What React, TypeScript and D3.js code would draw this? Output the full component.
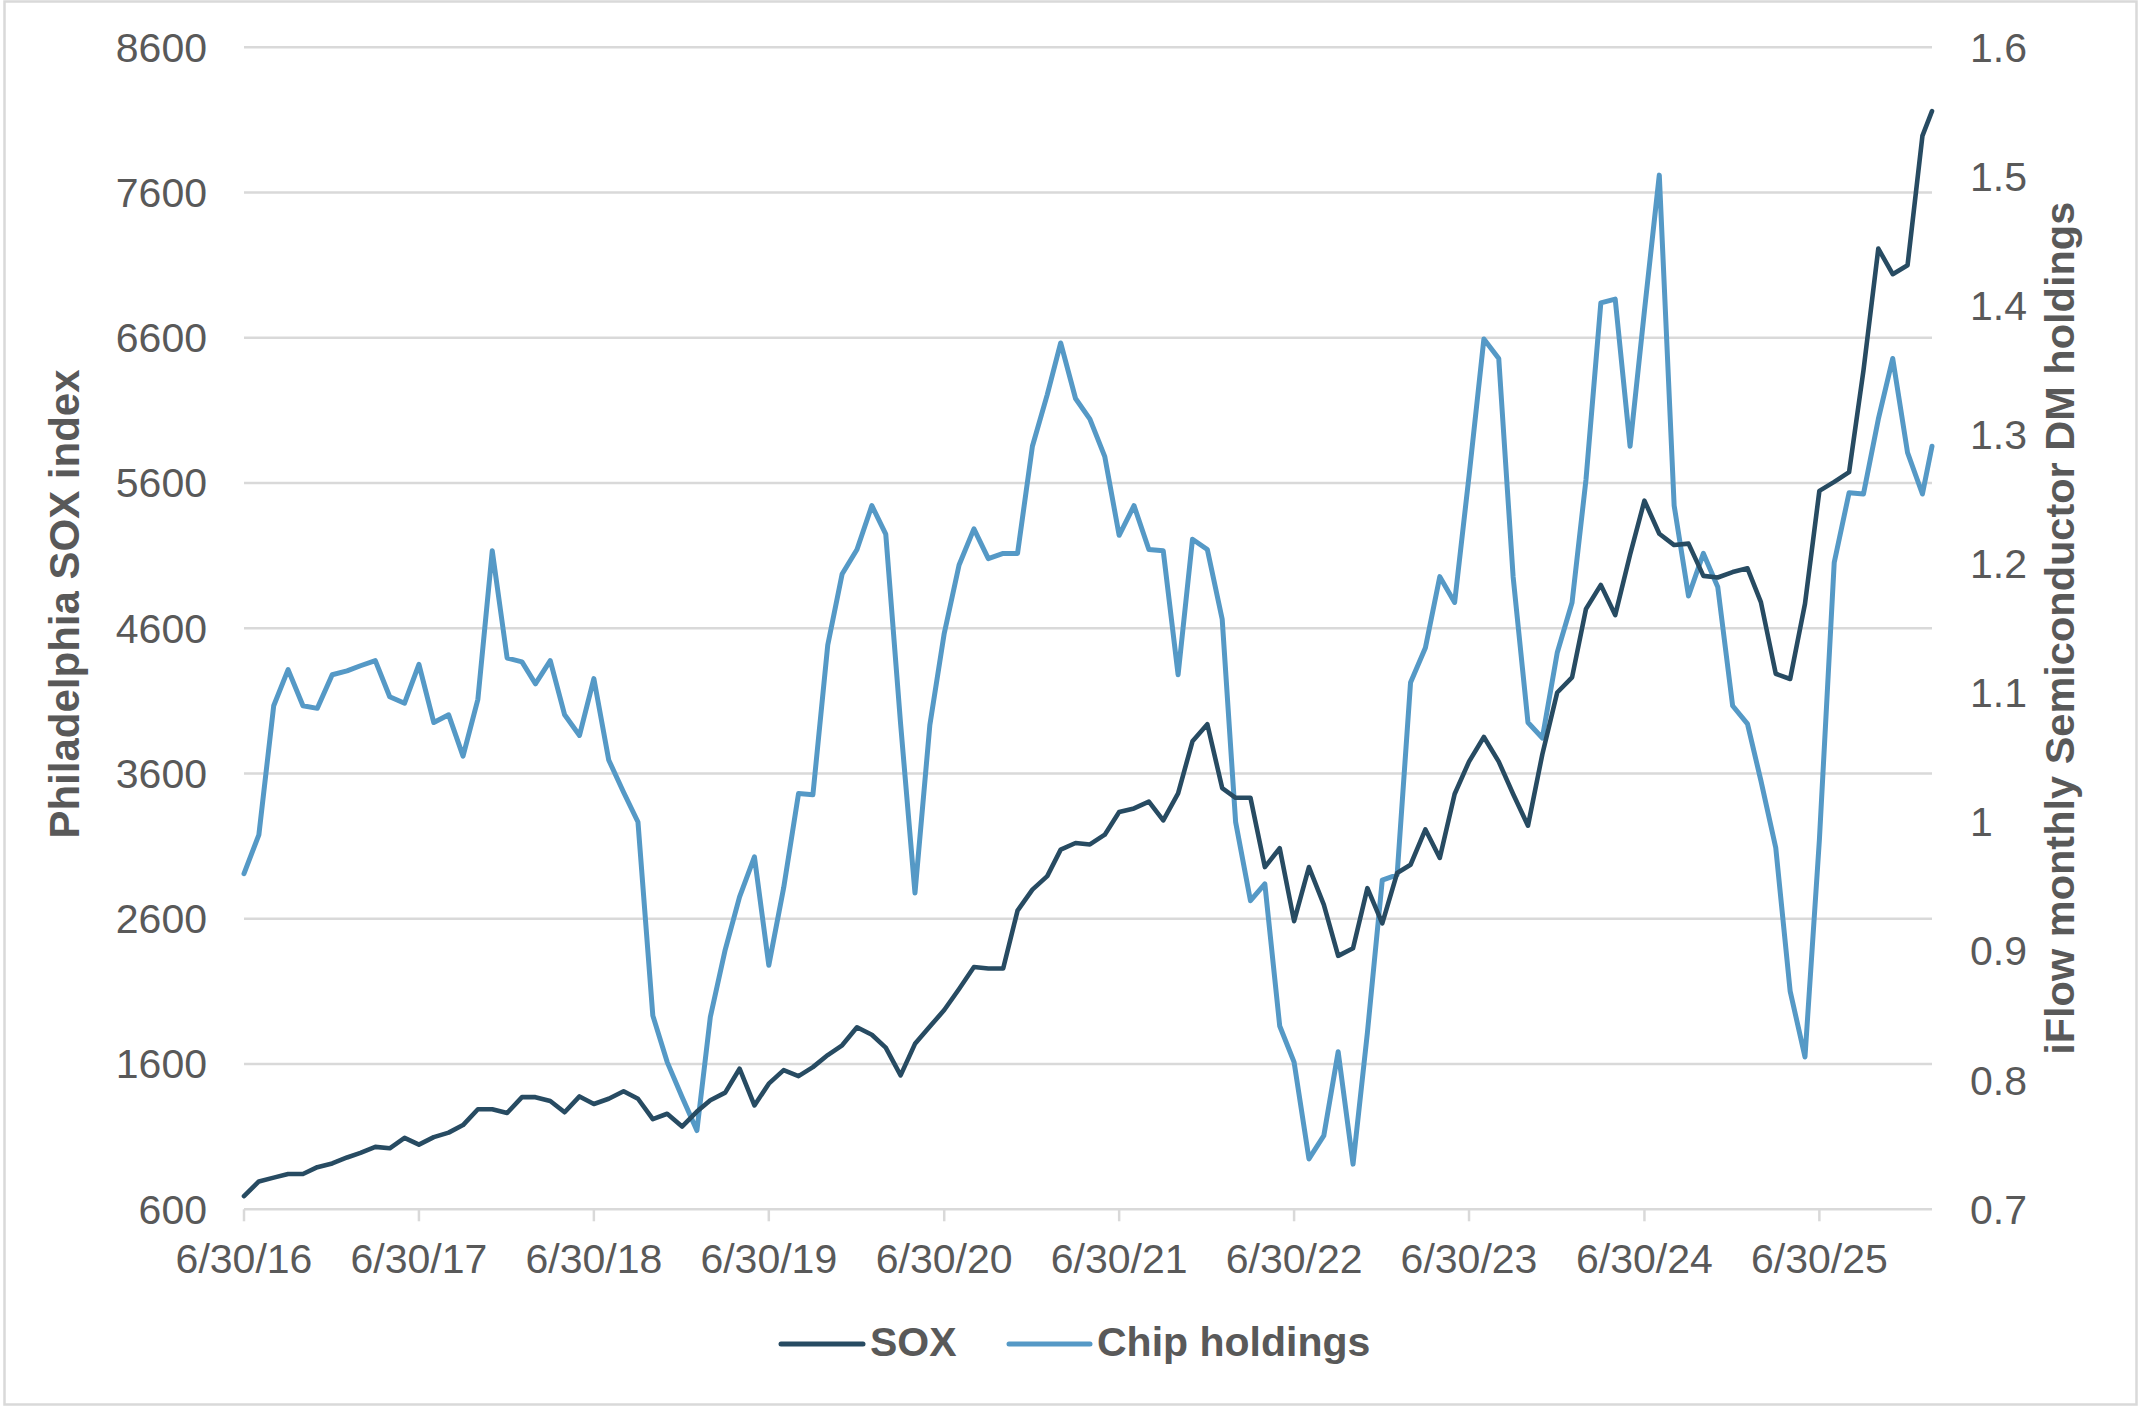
import { useEffect } from "react";
import * as d3 from "d3";

// month-end observations, last point is a mid-month reading
const dates: string[] = [
  "2016-06-30", "2016-07-31", "2016-08-31", "2016-09-30", "2016-10-31", "2016-11-30", "2016-12-31",
  "2017-01-31", "2017-02-28", "2017-03-31", "2017-04-30", "2017-05-31", "2017-06-30",
  "2017-07-31", "2017-08-31", "2017-09-30", "2017-10-31", "2017-11-30", "2017-12-31",
  "2018-01-31", "2018-02-28", "2018-03-31", "2018-04-30", "2018-05-31", "2018-06-30",
  "2018-07-31", "2018-08-31", "2018-09-30", "2018-10-31", "2018-11-30", "2018-12-31",
  "2019-01-31", "2019-02-28", "2019-03-31", "2019-04-30", "2019-05-31", "2019-06-30",
  "2019-07-31", "2019-08-31", "2019-09-30", "2019-10-31", "2019-11-30", "2019-12-31",
  "2020-01-31", "2020-02-29", "2020-03-31", "2020-04-30", "2020-05-31", "2020-06-30",
  "2020-07-31", "2020-08-31", "2020-09-30", "2020-10-31", "2020-11-30", "2020-12-31",
  "2021-01-31", "2021-02-28", "2021-03-31", "2021-04-30", "2021-05-31", "2021-06-30",
  "2021-07-31", "2021-08-31", "2021-09-30", "2021-10-31", "2021-11-30", "2021-12-31",
  "2022-01-31", "2022-02-28", "2022-03-31", "2022-04-30", "2022-05-31", "2022-06-30",
  "2022-07-31", "2022-08-31", "2022-09-30", "2022-10-31", "2022-11-30", "2022-12-31",
  "2023-01-31", "2023-02-28", "2023-03-31", "2023-04-30", "2023-05-31", "2023-06-30",
  "2023-07-31", "2023-08-31", "2023-09-30", "2023-10-31", "2023-11-30", "2023-12-31",
  "2024-01-31", "2024-02-29", "2024-03-31", "2024-04-30", "2024-05-31", "2024-06-30",
  "2024-07-31", "2024-08-31", "2024-09-30", "2024-10-31", "2024-11-30", "2024-12-31",
  "2025-01-31", "2025-02-28", "2025-03-31", "2025-04-30", "2025-05-31", "2025-06-30",
  "2025-07-31", "2025-08-31", "2025-09-30", "2025-10-31", "2025-11-30", "2025-12-31",
  "2026-01-31", "2026-02-20",
];

const sox: number[] = [
  690, 792, 818, 843, 843, 890, 916,
  957, 988, 1030, 1020, 1092, 1045,
  1097, 1128, 1180, 1289, 1289, 1263,
  1372, 1372, 1346, 1268, 1377, 1325,
  1361, 1413, 1361, 1221, 1258, 1170,
  1273, 1351, 1403, 1568, 1315, 1465,
  1558, 1517, 1579, 1662, 1729, 1853,
  1802, 1713, 1522, 1739, 1858, 1972,
  2117, 2268, 2258, 2258, 2656, 2801,
  2894, 3076, 3122, 3112, 3179, 3335,
  3360, 3407, 3278, 3464, 3822, 3940,
  3500, 3433, 3433, 2956, 3086, 2584,
  2956, 2697, 2345, 2397, 2811, 2568,
  2915, 2972, 3215, 3019, 3459, 3682,
  3852, 3682, 3459, 3241, 3733, 4158,
  4262, 4733, 4899, 4691, 5106, 5479,
  5251, 5173, 5183, 4961, 4950, 4987,
  5013, 4780, 4287, 4251, 4769, 5546,
  5608, 5675, 6375, 7214, 7038, 7100,
  7990, 8161,
];

const chip: number[] = [
  0.96, 0.99, 1.09, 1.118, 1.09, 1.088, 1.114,
  1.117, 1.121, 1.125, 1.097, 1.092, 1.122,
  1.077, 1.083, 1.051, 1.095, 1.21, 1.127,
  1.124, 1.107, 1.125, 1.083, 1.067, 1.111,
  1.048, 1.023, 1.0, 0.85, 0.814, 0.787,
  0.761, 0.849, 0.901, 0.942, 0.973, 0.889,
  0.949, 1.022, 1.021, 1.137, 1.192, 1.211,
  1.245, 1.223, 1.076, 0.945, 1.075, 1.146,
  1.199, 1.227, 1.204, 1.208, 1.208, 1.291,
  1.331, 1.371, 1.328, 1.312, 1.283, 1.222,
  1.245, 1.211, 1.21, 1.114, 1.219, 1.211,
  1.157, 1.0, 0.939, 0.952, 0.842, 0.814,
  0.739, 0.757, 0.822, 0.735, 0.837, 0.955,
  0.959, 1.108, 1.135, 1.19, 1.17, 1.268,
  1.374, 1.359, 1.19, 1.077, 1.065, 1.131,
  1.17, 1.265, 1.402, 1.405, 1.291, 1.396,
  1.501, 1.245, 1.175, 1.208, 1.182, 1.09,
  1.076, 1.032, 0.98, 0.869, 0.818, 0.986,
  1.201, 1.255, 1.254, 1.312, 1.359, 1.286,
  1.254, 1.291,
];

const xTickDates: string[] = [
  "2016-06-30", "2017-06-30", "2018-06-30", "2019-06-30", "2020-06-30",
  "2021-06-30", "2022-06-30", "2023-06-30", "2024-06-30", "2025-06-30",
];
const xTickLabels: string[] = [
  "6/30/16", "6/30/17", "6/30/18", "6/30/19", "6/30/20",
  "6/30/21", "6/30/22", "6/30/23", "6/30/24", "6/30/25",
];
const leftTicks: number[] = [600, 1600, 2600, 3600, 4600, 5600, 6600, 7600, 8600];
const rightTicks: number[] = [0.7, 0.8, 0.9, 1, 1.1, 1.2, 1.3, 1.4, 1.5, 1.6];

const W = 2141;
const H = 1408;
const plot = { left: 244, right: 1932, top: 47.3, bottom: 1209.3 };
const FONT = "'Liberation Sans', Arial, sans-serif";
const TEXT = "#595959";
const GRID = "#d9d9d9";
const SOX_COLOR = "#274b62";
const CHIP_COLOR = "#5599c6";

const parse = d3.utcParse("%Y-%m-%d");

export default function App() {
  useEffect(() => {
    document.body.style.margin = "0";
    document.body.style.overflow = "hidden";
  }, []);

  const x = d3
    .scaleUtc()
    .domain([parse(dates[0])!, parse(dates[dates.length - 1])!])
    .range([plot.left, plot.right]);
  const yLeft = d3.scaleLinear().domain([600, 8600]).range([plot.bottom, plot.top]);
  const yRight = d3.scaleLinear().domain([0.7, 1.6]).range([plot.bottom, plot.top]);

  const soxLine = d3
    .line<number>()
    .x((_, i) => x(parse(dates[i])!))
    .y((d) => yLeft(d));
  const chipLine = d3
    .line<number>()
    .x((_, i) => x(parse(dates[i])!))
    .y((d) => yRight(d));

  const midY = (plot.top + plot.bottom) / 2;

  return (
    <svg width={W} height={H} style={{ display: "block" }} fontFamily={FONT}>
      <rect x={0} y={0} width={W} height={H} fill="#fff" />
      <rect x={4.5} y={1.5} width={2132} height={1403} fill="none" stroke={GRID} strokeWidth={2.5} />

      {leftTicks.map((t) => (
        <line key={t} x1={plot.left} x2={plot.right} y1={yLeft(t)} y2={yLeft(t)} stroke={GRID} strokeWidth={2.5} />
      ))}
      {xTickDates.map((d) => (
        <line
          key={d}
          x1={x(parse(d)!)}
          x2={x(parse(d)!)}
          y1={plot.bottom}
          y2={plot.bottom + 12}
          stroke={GRID}
          strokeWidth={2.5}
        />
      ))}

      {leftTicks.map((t) => (
        <text key={t} x={207} y={yLeft(t)} dy="0.35em" textAnchor="end" fontSize={41} fill={TEXT}>
          {t}
        </text>
      ))}
      {rightTicks.map((t) => (
        <text key={t} x={1970} y={yRight(t)} dy="0.35em" textAnchor="start" fontSize={41} fill={TEXT}>
          {String(t)}
        </text>
      ))}
      {xTickDates.map((d, i) => (
        <text key={d} x={x(parse(d)!)} y={1273} textAnchor="middle" fontSize={41} fill={TEXT}>
          {xTickLabels[i]}
        </text>
      ))}

      <text
        transform={`translate(79, 604) rotate(-90)`}
        textAnchor="middle"
        fontSize={42}
        fontWeight="bold"
        fill={TEXT}
      >
        Philadelphia SOX index
      </text>
      <text
        transform={`translate(2074, ${midY}) rotate(-90)`}
        textAnchor="middle"
        fontSize={41.5}
        fontWeight="bold"
        fill={TEXT}
      >
        iFlow monthly Semiconductor DM holdings
      </text>

      <path d={chipLine(chip) ?? ""} fill="none" stroke={CHIP_COLOR} strokeWidth={5} strokeLinejoin="round" strokeLinecap="round" />
      <path d={soxLine(sox) ?? ""} fill="none" stroke={SOX_COLOR} strokeWidth={4.6} strokeLinejoin="round" strokeLinecap="round" />

      <g fontSize={41} fontWeight="bold" fill={TEXT}>
        <line x1={781} x2={863} y1={1344} y2={1344} stroke={SOX_COLOR} strokeWidth={5} strokeLinecap="round" />
        <text x={870} y={1356}>SOX</text>
        <line x1={1009} x2={1090} y1={1344} y2={1344} stroke={CHIP_COLOR} strokeWidth={5} strokeLinecap="round" />
        <text x={1097} y={1356}>Chip holdings</text>
      </g>
    </svg>
  );
}
